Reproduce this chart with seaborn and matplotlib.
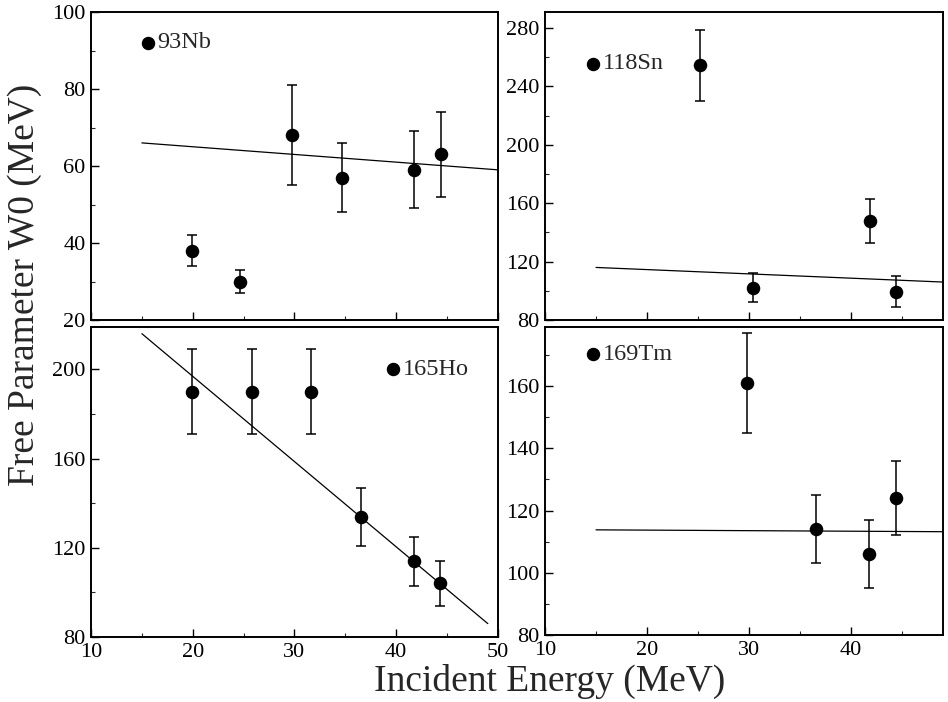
import numpy as np
import pandas as pd
import matplotlib
matplotlib.use("Agg")
import matplotlib.pyplot as plt
from matplotlib.ticker import MultipleLocator
import seaborn as sns

# ---------------- data ----------------
nb_x = [19.9, 24.6, 29.8, 34.7, 41.7, 44.4]
nb_y = [38, 30, 68, 57, 59, 63]
nb_lo = [34, 27, 55, 48, 49, 52]
nb_hi = [42, 33, 81, 66, 69, 74]
nb_fit_x = [15, 50]
nb_fit_y = [66, 59]

sn_x = [25.2, 30.4, 41.8, 44.4]
sn_y = [255, 102, 148, 99]
sn_lo = [230, 92, 133, 89]
sn_hi = [279, 112, 163, 110]
sn_fit_x = [15, 49]
sn_fit_y = [116, 106]

ho_x = [19.9, 25.8, 31.6, 36.5, 41.7, 44.3]
ho_y = [190, 190, 190, 134, 114, 104]
ho_lo = [171, 171, 171, 121, 103, 94]
ho_hi = [209, 209, 209, 147, 125, 114]
ho_fit_x = [15, 49]
ho_fit_y = [216, 86]

tm_x = [29.8, 36.6, 41.7, 44.4]
tm_y = [161, 114, 106, 124]
tm_lo = [145, 103, 95, 112]
tm_hi = [177, 125, 117, 136]
tm_fit_x = [15, 49]
tm_fit_y = [113.8, 113.2]

labels = ["93Nb", "118Sn", "165Ho", "169Tm"]

# ---------------- style ----------------
sns.set_theme(style="ticks")
plt.rcParams["font.family"] = ["Liberation Serif", "DejaVu Serif"]
plt.rcParams["axes.linewidth"] = 1.4

fig = plt.figure(figsize=(9.48, 7.02), dpi=100)
W, H = 948, 702
def rect(x0, y0, x1, y1):
    return [x0 / W, 1 - y1 / H, (x1 - x0) / W, (y1 - y0) / H]

ax_nb = fig.add_axes(rect(91, 12, 498, 320))
ax_sn = fig.add_axes(rect(545, 12, 943, 320))
ax_ho = fig.add_axes(rect(91, 327, 498, 637))
ax_tm = fig.add_axes(rect(545, 327, 943, 635))

panels = [
    (ax_nb, nb_x, nb_y, nb_lo, nb_hi, nb_fit_x, nb_fit_y, labels[0],
     (10, 50), (20, 100), 20, 10, (15.6, 92)),
    (ax_sn, sn_x, sn_y, sn_lo, sn_hi, sn_fit_x, sn_fit_y, labels[1],
     (10, 49), (80, 291), 40, 20, (14.7, 255.5)),
    (ax_ho, ho_x, ho_y, ho_lo, ho_hi, ho_fit_x, ho_fit_y, labels[2],
     (10, 50), (80, 219), 40, 20, (39.7, 200)),
    (ax_tm, tm_x, tm_y, tm_lo, tm_hi, tm_fit_x, tm_fit_y, labels[3],
     (10, 49), (80, 179), 20, 10, (14.7, 170.3)),
]

for (ax, x, y, lo, hi, fx, fy, lab, xl, yl, ymaj, ymin, legpos) in panels:
    df = pd.DataFrame({"x": x, "y": y})
    yerr = np.array([np.array(y) - np.array(lo), np.array(hi) - np.array(y)])
    ax.errorbar(x, y, yerr=yerr, fmt="none", ecolor="black", elinewidth=1.1,
                capsize=3.5, capthick=1.1, zorder=2)
    sns.scatterplot(data=df, x="x", y="y", ax=ax, color="black", s=95,
                    edgecolor="black", linewidth=0, zorder=3)
    sns.lineplot(x=fx, y=fy, ax=ax, color="black", linewidth=0.9, zorder=1)
    # legend-like marker + label
    ax.scatter([legpos[0]], [legpos[1]], s=75, color="black", zorder=3)
    ax.annotate(lab, xy=legpos, xytext=(7, 0), textcoords="offset points",
                va="center", ha="left", fontsize=17.5)
    ax.set_xlim(*xl)
    ax.set_ylim(*yl)
    ax.xaxis.set_major_locator(MultipleLocator(10))
    ax.xaxis.set_minor_locator(MultipleLocator(5))
    ax.yaxis.set_major_locator(MultipleLocator(ymaj))
    ax.yaxis.set_minor_locator(MultipleLocator(ymin))
    ax.tick_params(which="major", direction="in", length=6, width=1.0,
                   labelsize=16, colors="black", pad=4)
    ax.tick_params(which="minor", direction="in", length=3, width=0.8)
    ax.set_xlabel("")
    ax.set_ylabel("")
    for s in ax.spines.values():
        s.set_color("black")
    ax.set_facecolor("white")

for ax in (ax_nb, ax_sn):
    ax.tick_params(axis="x", labelbottom=False)

fig.text(0.58, 0.03, "Incident Energy (MeV)", ha="center", va="center",
         fontsize=27)
fig.text(0.026, 0.594, "Free Parameter W0 (MeV)", ha="center", va="center",
         rotation=90, fontsize=27)

fig.savefig("out.png", dpi=100, facecolor="white")
